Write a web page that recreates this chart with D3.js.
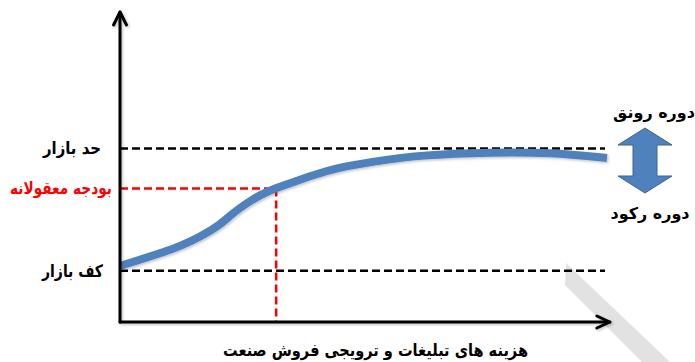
<!DOCTYPE html>
<html>
<head>
<meta charset="utf-8">
<script src="https://cdn.jsdelivr.net/npm/d3@7"></script>
<style>
  body { margin: 0; background: #fff; }
  svg { display: block; }
  text { font-family: "DejaVu Sans", sans-serif; font-weight: bold; }
</style>
</head>
<body>
<script>
// Market levels (reference lines) on the sales axis
const levelNames  = ["حد بازار", "بودجه معقولانه", "کف بازار"];
const levelValues = [56, 43.1, 16.5];
const levelColors = ["#000", "#ff0000", "#000"];

// Reasonable budget on the spending axis
const budgetX = 32.2;

// Sales response curve: spending vs. sales
const spend = [0, 2.7, 9.7, 12.4, 16.5, 20.6, 23.3, 26.2, 28.9, 32, 35.1, 39.8, 44.7, 51.5, 61.9, 76.9, 88.7, 100.4];
const sales = [18.1, 19.4, 22.9, 24.5, 27.4, 31.3, 35.2, 38.4, 41, 43.1, 44.8, 47.4, 49.7, 51.6, 53.9, 54.8, 54.7, 52.9];

const xTitle = "هزینه های تبلیغات و ترویجی فروش  صنعت";
const cycleLabels = ["دوره رونق", "دوره رکود"];

const W = 695, H = 362;
const svg = d3.select("body").append("svg").attr("width", W).attr("height", H);

const x = d3.scaleLinear([0, 100], [120, 605]);
const y = d3.scaleLinear([0, 100], [322, 12]);

const defs = svg.append("defs");
const sh = defs.append("filter").attr("id", "shadow")
  .attr("x", "-10%").attr("y", "-10%").attr("width", "120%").attr("height", "120%");
sh.append("feDropShadow").attr("dx", 1.5).attr("dy", 1.5).attr("stdDeviation", 1)
  .attr("flood-color", "#000").attr("flood-opacity", 0.22);

// fit a label to a given width while keeping a taller glyph size
function fitText(sel, width) {
  sel.attr("textLength", width).attr("lengthAdjust", "spacingAndGlyphs");
}

// light grey diagonal band in the lower right corner
svg.append("path")
  .attr("d", "M566,263 L670,362 L642,362 L565,285 Z")
  .attr("fill", "#e2e2e2");

// dashed level lines
const levels = levelValues.map((v, i) => ({ v, name: levelNames[i], color: levelColors[i] }));
svg.append("g").selectAll("line").data(levels).join("line")
  .attr("x1", x(0))
  .attr("x2", d => d.color === "#000" ? x(100) : x(budgetX))
  .attr("y1", d => y(d.v)).attr("y2", d => y(d.v))
  .attr("stroke", d => d.color)
  .attr("stroke-width", 2.5)
  .attr("stroke-dasharray", "8,4");

// vertical budget line
svg.append("line")
  .attr("x1", x(budgetX)).attr("x2", x(budgetX))
  .attr("y1", y(levelValues[1])).attr("y2", y(0))
  .attr("stroke", "#ff0000").attr("stroke-width", 2.5)
  .attr("stroke-dasharray", "8,4");

// level labels
const labelRight = [101, 112, 103];
const labelWidth = [58, 102, 61];
svg.append("g").selectAll("text").data(levels).join("text")
  .attr("x", (d, i) => labelRight[i])
  .attr("y", d => y(d.v))
  .attr("dy", "0.35em")
  .attr("text-anchor", "end")
  .attr("font-size", 17)
  .attr("fill", d => d.color)
  .text(d => d.name)
  .each(function (d, i) { fitText(d3.select(this), labelWidth[i]); });

// response curve
const line = d3.line()
  .x((d, i) => x(spend[i]))
  .y(d => y(d))
  .curve(d3.curveBasis);
svg.append("path")
  .attr("d", line(sales))
  .attr("fill", "none")
  .attr("stroke", "#4f81bd")
  .attr("stroke-width", 8)
  .attr("filter", "url(#shadow)");

// axes with open arrow heads
const axes = svg.append("g").attr("filter", "url(#shadow)")
  .attr("stroke", "#000").attr("stroke-width", 3).attr("fill", "none")
  .attr("stroke-linecap", "round").attr("stroke-linejoin", "round");
axes.append("path").attr("d", `M${x(0)},${y(0)} L${x(0)},${y(100)}`);
axes.append("path").attr("d", `M${x(0) - 6.5},${y(100) + 13} L${x(0)},${y(100)} L${x(0) + 6.5},${y(100) + 13}`);
axes.append("path").attr("d", `M${x(0)},${y(0)} L${x(101)},${y(0)}`);
axes.append("path").attr("d", `M${x(101) - 13},${y(0) - 6} L${x(101)},${y(0)} L${x(101) - 13},${y(0) + 6}`);

// axis title
svg.append("text")
  .attr("x", 528).attr("y", 350).attr("dy", "0.35em")
  .attr("text-anchor", "end").attr("font-size", 17)
  .text(xTitle)
  .call(fitText, 305);

// boom / recession double arrow
const ax = 645, aTop = 128, aBot = 193, hw = 27, sw = 12, hh = 17;
svg.append("path")
  .attr("d", `M${ax},${aTop} L${ax + hw},${aTop + hh} L${ax + sw},${aTop + hh} L${ax + sw},${aBot - hh}
              L${ax + hw},${aBot - hh} L${ax},${aBot} L${ax - hw},${aBot - hh} L${ax - sw},${aBot - hh}
              L${ax - sw},${aTop + hh} L${ax - hw},${aTop + hh} Z`)
  .attr("fill", "#4f81bd").attr("stroke", "#3a6595").attr("stroke-width", 1);

svg.append("text").attr("x", 654).attr("y", 112).attr("dy", "0.35em")
  .attr("text-anchor", "middle").attr("font-size", 16).text(cycleLabels[0]);
svg.append("text").attr("x", 650).attr("y", 213).attr("dy", "0.35em")
  .attr("text-anchor", "middle").attr("font-size", 16).text(cycleLabels[1]);
</script>
</body>
</html>
